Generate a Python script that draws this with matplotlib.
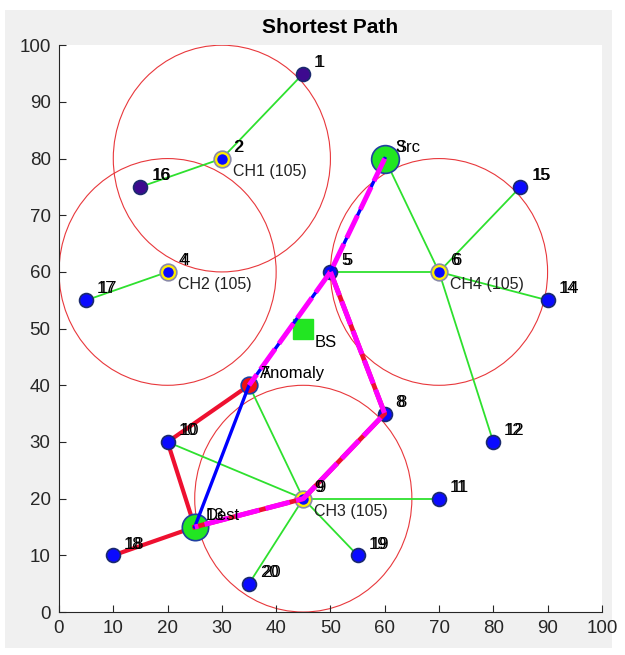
import matplotlib.pyplot as plt
from matplotlib.patches import Circle, Rectangle

plt.rcParams['font.family'] = ['Liberation Sans', 'DejaVu Sans']

# node positions (id -> x, y)
node_ids = list(range(1, 21))
node_x = [45, 30, 60, 20, 50, 70, 35, 60, 45, 20, 70, 80, 25, 90, 85, 15, 5, 10, 55, 35]
node_y = [95, 80, 80, 60, 60, 60, 40, 35, 20, 30, 20, 30, 15, 55, 75, 75, 55, 10, 10, 5]

# cluster heads and their labels
ch_ids = [2, 4, 9, 6]
ch_names = ["CH1 (105)", "CH2 (105)", "CH3 (105)", "CH4 (105)"]
ch_range = 20

src_id, dest_id, anomaly_id = 3, 13, 7
purple_ids = [1, 16]
bs_x, bs_y = 45, 50

# cluster member links
member_links = [(2, 1), (2, 16), (4, 17), (6, 3), (6, 15), (6, 5), (6, 14), (6, 12),
                (9, 7), (9, 10), (9, 11), (9, 19), (9, 20), (9, 13), (13, 18)]

# routes
red_route_a = [18, 13, 10, 7]
red_route_b = [5, 8, 9, 13]
blue_route = [3, 5, 7, 13]
magenta_route = [[3, 5, 7], [5, 8, 9, 13]]

pos = {i: (x, y) for i, x, y in zip(node_ids, node_x, node_y)}
special = (src_id, dest_id, anomaly_id)


def route_xy(route):
    return [pos[i][0] for i in route], [pos[i][1] for i in route]


fig = plt.figure(figsize=(6.25, 6.55), dpi=100, facecolor='white')
fig.patches.append(Rectangle((0.008, 0.011), 0.971, 0.974, transform=fig.transFigure,
                             facecolor='#f0f0f0', edgecolor='none', zorder=-10))
ax = fig.add_axes([0.0944, 0.0656, 0.8686, 0.8654])
ax.set_facecolor('white')

# coverage circles around the cluster heads
for c in ch_ids:
    ax.add_patch(Circle(pos[c], ch_range, fill=False, edgecolor='#e8383c', lw=0.8, zorder=1))

for a, b in member_links:
    ax.plot([pos[a][0], pos[b][0]], [pos[a][1], pos[b][1]], color='#2ee02e', lw=1.3, zorder=2)

# ordinary nodes
for i in node_ids:
    if i in ch_ids or i in special:
        continue
    fc = '#3d0a8f' if i in purple_ids else '#0a0aff'
    ax.plot(*pos[i], 'o', ms=10, mfc=fc, mec='#1b2a6e', mew=1.2, zorder=4)

# cluster heads: yellow ring with blue centre
for c in ch_ids:
    ax.plot(*pos[c], 'o', ms=12, mfc='#ffee00', mec='#8a8aa8', mew=1.2, zorder=4)
    ax.plot(*pos[c], 'o', ms=6.5, mfc='#0a0aff', mec='#0a0aff', zorder=5)

ax.plot(*pos[src_id], 'o', ms=20, mfc='#22e622', mec='#2040a0', mew=1.2, zorder=4)
ax.plot(*pos[dest_id], 'o', ms=19, mfc='#22e622', mec='#2040a0', mew=1.2, zorder=4)
ax.plot(*pos[anomaly_id], 'o', ms=12, mfc='#ee1010', mec='#2040a0', mew=1.2, zorder=4)
ax.plot(bs_x, bs_y, 's', ms=14, mfc='#22e622', mec='#22e622', zorder=4)

# paths
ax.plot(*route_xy(red_route_a), color='#ee1030', lw=3, zorder=3)
ax.plot(*route_xy(red_route_b), color='#ee1030', lw=3.4, zorder=6)
ax.plot(*route_xy(blue_route), color='#0000ff', lw=2.4, zorder=7)
for seg in magenta_route:
    ax.plot(*route_xy(seg), color='#ff00ff', lw=3.6, dashes=(5, 1.3), zorder=8)

# node labels (ordinary ones drawn twice, slightly shifted)
for i in node_ids:
    x, y = pos[i]
    shifts = (0,) if i in special else (0, 0.35)
    for dx in shifts:
        ax.text(x + 2 + dx, y + 2, str(i), fontsize=12, color='black', va='center', ha='left', zorder=9)

for c, name in zip(ch_ids, ch_names):
    ax.text(pos[c][0] + 2, pos[c][1] - 2.3, name, fontsize=11.5, color='#222222', va='center', ha='left', zorder=9)

ax.text(pos[src_id][0] + 2, pos[src_id][1] + 2, "Src", fontsize=12, va='center', zorder=9)
ax.text(pos[dest_id][0] + 2, pos[dest_id][1] + 2, "Dest", fontsize=12, va='center', zorder=9)
ax.text(pos[anomaly_id][0] + 2, pos[anomaly_id][1] + 2, "Anomaly", fontsize=12, va='center', zorder=9)
ax.text(bs_x + 2, bs_y - 2.5, "BS", fontsize=12, va='center', zorder=9)

ax.set_xlim(0, 100)
ax.set_ylim(0, 100)
ax.set_xticks(range(0, 101, 10))
ax.set_yticks(range(0, 101, 10))
ax.spines['top'].set_visible(False)
ax.spines['right'].set_visible(False)
for s in ('left', 'bottom'):
    ax.spines[s].set_color('#262626')
    ax.spines[s].set_linewidth(0.8)
ax.tick_params(direction='in', length=5, width=0.8, colors='#262626', labelsize=13.5, pad=6)
ax.set_title("Shortest Path", fontsize=15, fontweight='bold', color='black', pad=9)

fig.savefig('out.png', dpi=100, facecolor='white')
